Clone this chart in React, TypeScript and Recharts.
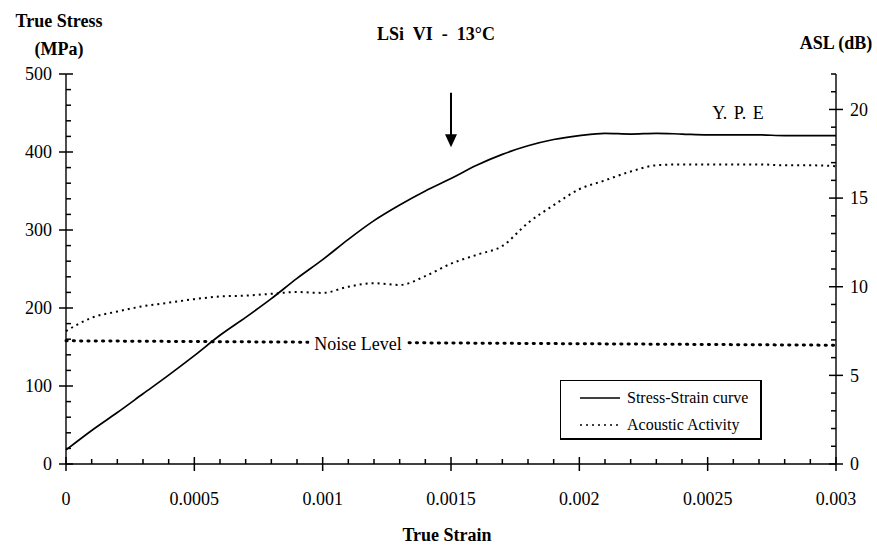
import React from 'react';
import { LineChart, Line, XAxis, YAxis, Legend, ReferenceLine } from 'recharts';

const SERIF = '"Liberation Serif", "Times New Roman", serif';

// strain samples (every 0.0001)
const strain = [
  0, 0.0001, 0.0002, 0.0003, 0.0004, 0.0005, 0.0006, 0.0007, 0.0008, 0.0009, 0.001,
  0.0011, 0.0012, 0.0013, 0.0014, 0.0015, 0.0016, 0.0017, 0.0018, 0.0019, 0.002,
  0.0021, 0.0022, 0.0023, 0.0024, 0.0025, 0.0026, 0.0027, 0.0028, 0.0029, 0.003,
];

// true stress, MPa
const stress = [
  18, 43, 66, 90, 114, 139, 165, 188, 212, 238, 262,
  288, 312, 332, 350, 366, 383, 397, 408, 416, 421,
  424, 423, 424, 423, 422, 422, 422, 421, 421, 421,
];

// acoustic activity, ASL in dB
const acoustic = [
  7.5, 8.25, 8.6, 8.9, 9.1, 9.3, 9.45, 9.5, 9.6, 9.7, 9.65,
  10.0, 10.2, 10.1, 10.6, 11.3, 11.8, 12.3, 13.6, 14.6, 15.5,
  16.0, 16.5, 16.85, 16.9, 16.9, 16.9, 16.9, 16.85, 16.85, 16.8,
];

// noise level, dB (only measured at both ends)
const noiseStrain = [0, 0.003];
const noiseDb = [6.95, 6.7];

const xMajor = [0, 0.0005, 0.001, 0.0015, 0.002, 0.0025, 0.003];
const stressMajor = [0, 100, 200, 300, 400, 500];
const aslMajor = [0, 5, 10, 15, 20];

const xTicks = Array.from({ length: 31 }, (_, i) => i / 10000);
const stressTicks = Array.from({ length: 26 }, (_, i) => i * 20);
const aslTicks = Array.from({ length: 23 }, (_, i) => i);

const data = strain.map((s, i) => {
  const n = noiseStrain.indexOf(s);
  return { strain: s, stress: stress[i], acoustic: acoustic[i], noise: n >= 0 ? noiseDb[n] : null };
});

const legendOrder = ['stress', 'acoustic'];
const seriesStyle: Record<string, { dash?: string; width: number }> = {
  stress: { width: 1.4 },
  acoustic: { dash: '2 4', width: 1.6 },
};

const isMajor = (v: number, list: number[]) => list.some((m) => Math.abs(m - v) < 1e-9);
const fmtStrain = (v: number) => String(Number(v.toFixed(4)));

// majors cross the axis, minors sit on the plot side
const renderXTick = (props: any) => {
  const x = Number(props.x);
  const y = Number(props.y);
  const major = isMajor(props.payload.value, xMajor);
  return (
    <g>
      <line x1={x} x2={x} y1={major ? y - 7 : y - 5} y2={major ? y + 7 : y} stroke="#000" strokeWidth={1.5} />
      {major && (
        <text x={x} y={y + 41} textAnchor="middle" fontFamily={SERIF} fontSize={18} fill="#000">
          {fmtStrain(props.payload.value)}
        </text>
      )}
    </g>
  );
};

const renderLeftTick = (props: any) => {
  const x = Number(props.x);
  const y = Number(props.y);
  const major = isMajor(props.payload.value, stressMajor);
  return (
    <g>
      <line x1={major ? x - 7 : x} x2={major ? x + 7 : x + 5} y1={y} y2={y} stroke="#000" strokeWidth={1.5} />
      {major && (
        <text x={x - 14} y={y} dy="0.35em" textAnchor="end" fontFamily={SERIF} fontSize={18} fill="#000">
          {props.payload.value}
        </text>
      )}
    </g>
  );
};

const renderRightTick = (props: any) => {
  const x = Number(props.x);
  const y = Number(props.y);
  const major = isMajor(props.payload.value, aslMajor);
  return (
    <g>
      <line x1={major ? x - 7 : x - 5} x2={major ? x + 7 : x} y1={y} y2={y} stroke="#000" strokeWidth={1.5} />
      {major && (
        <text x={x + 14} y={y} dy="0.35em" textAnchor="start" fontFamily={SERIF} fontSize={18} fill="#000">
          {props.payload.value}
        </text>
      )}
    </g>
  );
};

const LegendBox = ({ payload }: any) => {
  const items = legendOrder
    .map((k) => (payload || []).find((p: any) => p.dataKey === k))
    .filter(Boolean);
  return (
    <div
      style={{
        width: 202,
        height: 60,
        boxSizing: 'border-box',
        border: '1px solid #000',
        borderRightWidth: 2,
        borderBottomWidth: 2,
        background: '#fff',
        fontFamily: SERIF,
        fontSize: 16,
        padding: '3px 0 0 19px',
      }}
    >
      {items.map((p: any) => (
        <div key={p.dataKey} style={{ display: 'flex', alignItems: 'center', height: 27 }}>
          <svg width={40} height={4} style={{ marginRight: 7 }}>
            <line
              x1={0}
              x2={40}
              y1={2}
              y2={2}
              stroke="#000"
              strokeWidth={seriesStyle[p.dataKey].width}
              strokeDasharray={seriesStyle[p.dataKey].dash}
            />
          </svg>
          <span>{p.value}</span>
        </div>
      ))}
    </div>
  );
};

const ArrowShape = (props: any) => {
  const { x1, y1, x2, y2 } = props;
  return (
    <g>
      <line x1={x1} x2={x2} y1={y1} y2={y2 - 12} stroke="#000" strokeWidth={2} />
      <polygon points={`${x2 - 6},${y2 - 13} ${x2 + 6},${y2 - 13} ${x2},${y2}`} fill="#000" />
    </g>
  );
};

const label = (style: React.CSSProperties, text: string, bold = true) => (
  <div
    style={{
      position: 'absolute',
      transform: 'translate(-50%, -50%)',
      whiteSpace: 'pre',
      fontFamily: SERIF,
      fontWeight: bold ? 700 : 400,
      fontSize: 18,
      color: '#000',
      lineHeight: 1,
      ...style,
    }}
  >
    {text}
  </div>
);

export default function App() {
  return (
    <div style={{ position: 'absolute', left: 0, top: 0, width: 877, height: 547, background: '#fff' }}>
      <LineChart width={877} height={547} data={data} margin={{ top: 74, right: 0, bottom: 53, left: 0 }}>
        <XAxis
          dataKey="strain"
          type="number"
          domain={[0, 0.003]}
          ticks={xTicks}
          interval={0}
          tick={renderXTick}
          tickLine={false}
          tickSize={0}
          tickMargin={0}
          height={30}
          axisLine={{ stroke: '#000', strokeWidth: 1.4 }}
        />
        <YAxis
          yAxisId="stress"
          orientation="left"
          domain={[0, 500]}
          ticks={stressTicks}
          interval={0}
          tick={renderLeftTick}
          tickLine={false}
          tickSize={0}
          tickMargin={0}
          width={66}
          axisLine={{ stroke: '#000', strokeWidth: 1.4 }}
        />
        <YAxis
          yAxisId="asl"
          orientation="right"
          domain={[0, 22]}
          ticks={aslTicks}
          interval={0}
          tick={renderRightTick}
          tickLine={false}
          tickSize={0}
          tickMargin={0}
          width={41}
          axisLine={{ stroke: '#000', strokeWidth: 1.4 }}
        />
        <Line
          yAxisId="asl"
          dataKey="noise"
          type="linear"
          connectNulls
          stroke="#000"
          strokeWidth={3}
          strokeDasharray="1.2 6.1"
          strokeLinecap="round"
          dot={false}
          activeDot={false}
          legendType="none"
          isAnimationActive={false}
        />
        <Line
          yAxisId="asl"
          dataKey="acoustic"
          name="Acoustic Activity"
          type="monotone"
          stroke="#000"
          strokeWidth={2}
          strokeDasharray="2 4"
          dot={false}
          activeDot={false}
          isAnimationActive={false}
        />
        <Line
          yAxisId="stress"
          dataKey="stress"
          name="Stress-Strain curve"
          type="monotone"
          stroke="#000"
          strokeWidth={1.7}
          dot={false}
          activeDot={false}
          isAnimationActive={false}
        />
        <ReferenceLine
          yAxisId="stress"
          segment={[
            { x: 0.0015, y: 476 },
            { x: 0.0015, y: 406 },
          ]}
          shape={ArrowShape}
        />
        <Legend
          layout="horizontal"
          verticalAlign="middle"
          align="center"
          content={<LegendBox />}
          wrapperStyle={{ left: 560, top: 380, width: 202 }}
        />
      </LineChart>

      {label({ left: 59, top: 21 }, 'True Stress')}
      {label({ left: 59, top: 49 }, '(MPa)')}
      {label({ left: 436, top: 34 }, 'LSi  VI  -  13°C')}
      {label({ left: 836, top: 43 }, 'ASL (dB)')}
      {label({ left: 447, top: 535 }, 'True Strain')}
      {label({ left: 738, top: 113, wordSpacing: 2 }, 'Y. P. E', false)}
      {label({ left: 358, top: 344, background: '#fff', padding: '0 5px' }, 'Noise Level', false)}
    </div>
  );
}
